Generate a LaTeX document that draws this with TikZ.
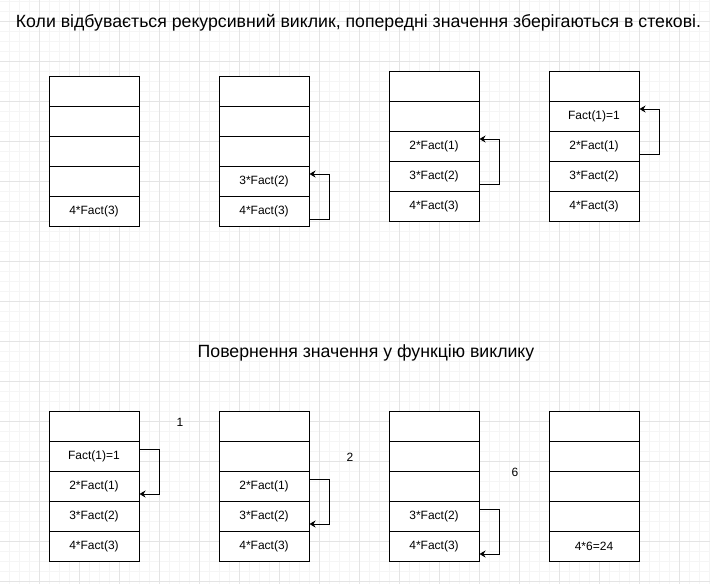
\documentclass[tikz,border=0pt]{standalone}
\usepackage{fontspec}
\setmainfont{Liberation Sans}
\usetikzlibrary{arrows.meta}
\definecolor{gridminor}{RGB}{245,245,245}
\definecolor{gridmajor}{RGB}{228,228,228}

\begin{document}
\begin{tikzpicture}[x=1pt,y=-1pt,
  cell/.style={draw,fill=white,line width=1pt,minimum width=90pt,minimum height=30pt,inner sep=0pt,font=\fontsize{12}{14}\selectfont},
  back/.style={line width=1pt,-{Stealth[length=6pt,width=7pt]}},
  step label/.style={font=\fontsize{12}{14}\selectfont},
  title/.style={font=\fontsize{17.7}{20}\selectfont}]
\useasboundingbox (0,0) rectangle (710,584);
\fill[white] (0,0) rectangle (710,584);
% background grid
\foreach \x in {9.3,19.3,...,709.3} \draw[gridminor,line width=1pt] (\x,0) -- (\x,584);
\foreach \y in {1.3,11.3,...,581.3} \draw[gridminor,line width=1pt] (0,\y) -- (710,\y);
\foreach \x in {39.3,79.3,...,709.3} \draw[gridmajor,line width=1pt] (\x,0) -- (\x,584);
\foreach \y in {21.3,61.3,...,581.3} \draw[gridmajor,line width=1pt] (0,\y) -- (710,\y);

\node[title] (calltitle) at (358.5,22.5) {Коли відбувається рекурсивний виклик, попередні значення зберігаються в стекові.};
\node[title] (rettitle) at (366,352.5) {Повернення значення у функцію виклику};

% calls
\node[cell] (a1) at (94,91) {};
\node[cell] (a2) at (94,121) {};
\node[cell] (a3) at (94,151) {};
\node[cell] (a4) at (94,181) {};
\node[cell] (a5) at (94,211) {4*Fact(3)};

\node[cell] (b1) at (264,91) {};
\node[cell] (b2) at (264,121) {};
\node[cell] (b3) at (264,151) {};
\node[cell] (b4) at (264,181) {3*Fact(2)};
\node[cell] (b5) at (264,211) {4*Fact(3)};
\draw[back] ([yshift=-8pt]b5.east) -- ++(20,0) |- ([yshift=7pt]b4.east);

\node[cell] (c1) at (434,86) {};
\node[cell] (c2) at (434,116) {};
\node[cell] (c3) at (434,146) {2*Fact(1)};
\node[cell] (c4) at (434,176) {3*Fact(2)};
\node[cell] (c5) at (434,206) {4*Fact(3)};
\draw[back] ([yshift=-8pt]c4.east) -- ++(20,0) |- ([yshift=7pt]c3.east);

\node[cell] (d1) at (594,86) {};
\node[cell] (d2) at (594,116) {Fact(1)=1};
\node[cell] (d3) at (594,146) {2*Fact(1)};
\node[cell] (d4) at (594,176) {3*Fact(2)};
\node[cell] (d5) at (594,206) {4*Fact(3)};
\draw[back] ([yshift=-8pt]d3.east) -- ++(20,0) |- ([yshift=7pt]d2.east);

% returns
\node[cell] (e1) at (94,426) {};
\node[cell] (e2) at (94,456) {Fact(1)=1};
\node[cell] (e3) at (94,486) {2*Fact(1)};
\node[cell] (e4) at (94,516) {3*Fact(2)};
\node[cell] (e5) at (94,546) {4*Fact(3)};
\draw[back] ([yshift=7pt]e2.east) -- ++(20,0) |- ([yshift=-8pt]e3.east);
\node[step label] (n1) at (180,422) {1};

\node[cell] (f1) at (264,426) {};
\node[cell] (f2) at (264,456) {};
\node[cell] (f3) at (264,486) {2*Fact(1)};
\node[cell] (f4) at (264,516) {3*Fact(2)};
\node[cell] (f5) at (264,546) {4*Fact(3)};
\draw[back] ([yshift=7pt]f3.east) -- ++(20,0) |- ([yshift=-8pt]f4.east);
\node[step label] (n2) at (350,457) {2};

\node[cell] (g1) at (434,426) {};
\node[cell] (g2) at (434,456) {};
\node[cell] (g3) at (434,486) {};
\node[cell] (g4) at (434,516) {3*Fact(2)};
\node[cell] (g5) at (434,546) {4*Fact(3)};
\draw[back] ([yshift=7pt]g4.east) -- ++(20,0) |- ([yshift=-8pt]g5.east);
\node[step label] (n6) at (515,472) {6};

\node[cell] (h1) at (594,426) {};
\node[cell] (h2) at (594,456) {};
\node[cell] (h3) at (594,486) {};
\node[cell] (h4) at (594,516) {};
\node[cell] (h5) at (594,546) {4*6=24};
\end{tikzpicture}
\end{document}
